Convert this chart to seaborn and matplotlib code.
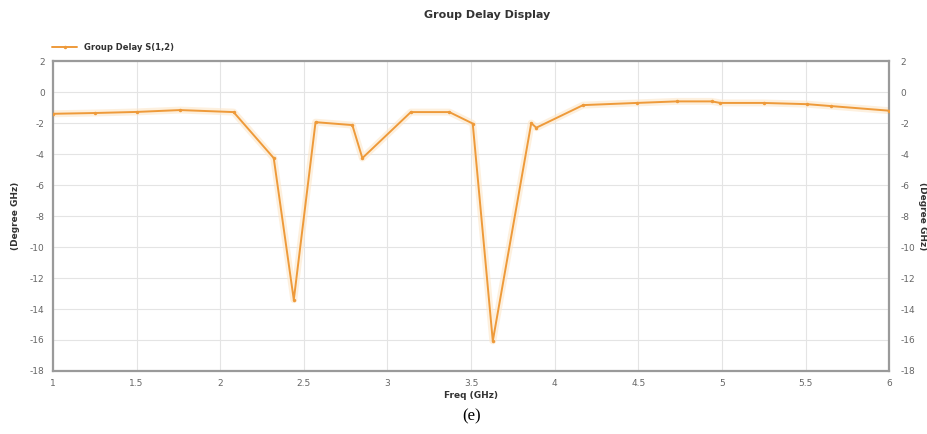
import numpy as np
import pandas as pd
import matplotlib
matplotlib.use('Agg')
import matplotlib.pyplot as plt
import seaborn as sns

# ------------------------------------------------------------
# DATA
# ------------------------------------------------------------
freq_ghz = [1.00, 1.25, 1.50, 1.76, 2.08, 2.32, 2.44, 2.57, 2.79, 2.85,
            3.14, 3.37, 3.51, 3.63, 3.86, 3.89, 4.17, 4.49, 4.73, 4.94,
            4.99, 5.25, 5.51, 5.65, 6.00]
group_delay = [-1.40, -1.35, -1.28, -1.16, -1.29, -4.26, -13.4, -1.94, -2.13, -4.26,
               -1.29, -1.29, -2.03, -16.06, -2.0, -2.3, -0.84, -0.70, -0.60, -0.60,
               -0.70, -0.70, -0.78, -0.90, -1.20]

x_ticks = [1, 1.5, 2, 2.5, 3, 3.5, 4, 4.5, 5, 5.5, 6]
x_tick_labels = ['1', '1.5', '2', '2.5', '3', '3.5', '4', '4.5', '5', '5.5', '6']
y_ticks = [2, 0, -2, -4, -6, -8, -10, -12, -14, -16, -18]

df = pd.DataFrame({'Freq (GHz)': freq_ghz, 'Group Delay S(1,2)': group_delay})

# ------------------------------------------------------------
# PLOT
# ------------------------------------------------------------
sns.set_style('white')
plt.rcParams['font.family'] = ['DejaVu Sans']
plt.rcParams['axes.unicode_minus'] = False

LINE_COLOR = '#ee9a3a'
TICK_COLOR = '#666666'

fig = plt.figure(figsize=(9.28, 4.34), dpi=100)
ax = fig.add_axes([0.0571, 0.1452, 0.901, 0.714])

# soft glow under the line
ax.plot(df['Freq (GHz)'], df['Group Delay S(1,2)'], color='#fde6c8',
        linewidth=5, alpha=0.6, zorder=2, solid_joinstyle='round')
sns.lineplot(data=df, x='Freq (GHz)', y='Group Delay S(1,2)', ax=ax,
             color=LINE_COLOR, linewidth=1.4, marker='o', markersize=2.5,
             markeredgewidth=0, label='Group Delay S(1,2)', zorder=3)

ax.set_xlim(1, 6)
ax.set_ylim(-18, 2)
ax.set_xticks(x_ticks)
ax.set_xticklabels(x_tick_labels)
ax.set_yticks(y_ticks)
ax.grid(True, color='#e4e4e4', linewidth=0.8)
ax.tick_params(axis='both', labelsize=6.5, colors=TICK_COLOR, length=0, pad=6)
for s in ax.spines.values():
    s.set_color('#9a9a9a')
    s.set_linewidth(1.6)

ax.set_xlabel('Freq (GHz)', fontsize=6.5, fontweight='bold', color='#333333', labelpad=2)
ax.set_ylabel('(Degree GHz)', fontsize=6.5, fontweight='bold', color='#333333')
ax.yaxis.set_label_coords(-0.04, 0.5)

# mirrored right axis
ax2 = ax.twinx()
ax2.set_ylim(-18, 2)
ax2.set_yticks(y_ticks)
ax2.tick_params(axis='y', labelsize=6.5, colors=TICK_COLOR, length=0, pad=8)
for s in ax2.spines.values():
    s.set_visible(False)
ax2.set_ylabel('(Degree GHz)', fontsize=6.5, fontweight='bold', color='#333333',
               rotation=270, va='center')
ax2.yaxis.set_label_coords(1.04, 0.5)

# legend above the axes, top-left
leg = ax.legend(loc='lower left', bbox_to_anchor=(-0.005, 1.02), frameon=False,
                fontsize=6, handlelength=3, borderaxespad=0)
for t in leg.get_texts():
    t.set_fontweight('bold')
    t.set_color('#333333')

fig.text(0.525, 0.965, 'Group Delay Display', ha='center', va='center',
         fontsize=8, fontweight='bold', color='#333333')
fig.text(0.508, 0.04, '(e)', ha='center', va='center', fontsize=12,
         family='Liberation Serif', color='black')

fig.savefig('out.png', dpi=100)
